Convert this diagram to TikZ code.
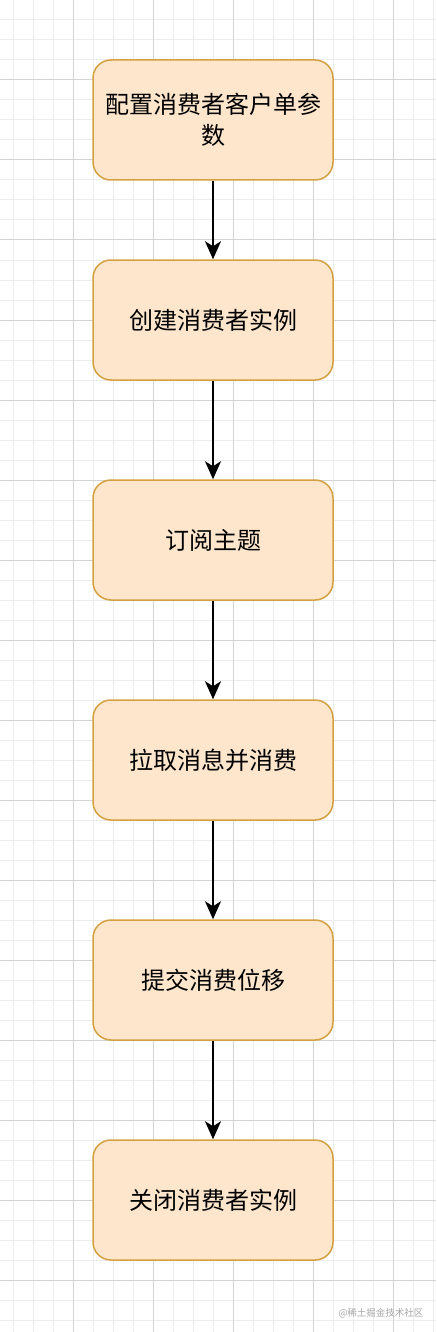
\documentclass[tikz,border=0pt]{standalone}
\usepackage{fontspec}
\setmainfont{Noto Sans CJK SC}
\usetikzlibrary{positioning,arrows.meta}

\definecolor{boxfill}{HTML}{FDE6CC}
\definecolor{boxline}{HTML}{D4A040}
\definecolor{gridminor}{HTML}{ECECEC}
\definecolor{gridmajor}{HTML}{D3D3D3}

\begin{document}
\begin{tikzpicture}[
    x=1pt,
    y=1pt,
    node distance=220pt,
    block/.style={
        rectangle,
        draw=boxline,
        fill=boxfill,
        line width=1.5pt,
        rounded corners=18pt,
        minimum width=240pt,
        minimum height=120pt,
        text width=220pt,
        align=center,
        font=\fontsize{24}{31}\selectfont
    },
    arrow/.style={
        -{Stealth[length=18pt,width=16pt,inset=5pt]},
        line width=2pt
    },
    minorgrid/.style={
        draw=gridminor,
        line width=1pt
    },
    majorgrid/.style={
        draw=gridmajor,
        line width=1pt
    },
    mark label/.style={
        font=\fontsize{9.5}{11}\selectfont,
        text=black!35
    }
]
\useasboundingbox (0,0) rectangle (436,-1332);

% Grid
\foreach \gx in {13,33,...,433} \draw[minorgrid] (\gx,0) -- (\gx,-1332);
\foreach \gy in {0,20,...,1320} \draw[minorgrid] (0,-\gy) -- (436,-\gy);
\foreach \gx in {73,153,...,393} \draw[majorgrid] (\gx,0) -- (\gx,-1332);
\foreach \gy in {0,80,...,1280} \draw[majorgrid] (0,-\gy) -- (436,-\gy);

% Nodes
\node [block] (cfg) at (213,-120) {配置消费者客户单参\\数};
\node [block, below of=cfg, node distance=200pt] (create) {创建消费者实例};
\node [block, below of=create] (sub) {订阅主题};
\node [block, below of=sub] (poll) {拉取消息并消费};
\node [block, below of=poll] (commit) {提交消费位移};
\node [block, below of=commit] (close) {关闭消费者实例};

% Arrows
\draw [arrow] (cfg) -- (create);
\draw [arrow] (create) -- (sub);
\draw [arrow] (sub) -- (poll);
\draw [arrow] (poll) -- (commit);
\draw [arrow] (commit) -- (close);

% Watermark
\node [mark label] (mark) at (381,-1313) {@稀土掘金技术社区};

\end{tikzpicture}
\end{document}
